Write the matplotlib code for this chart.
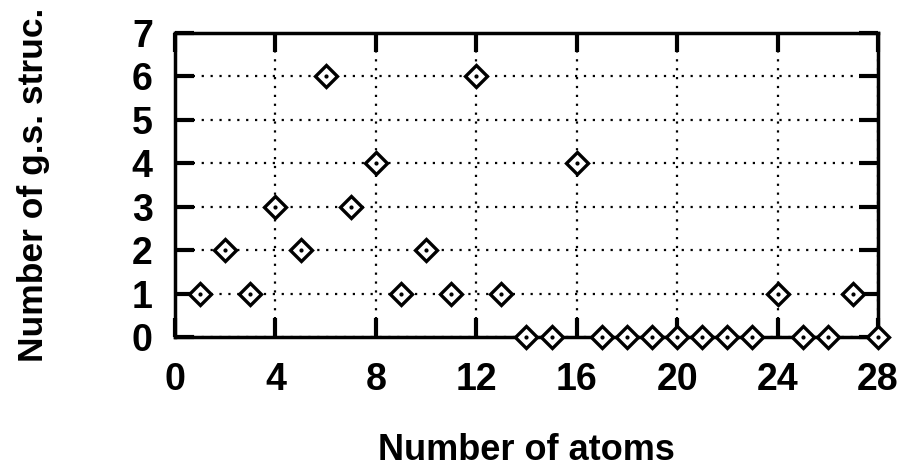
import numpy as np
import matplotlib.pyplot as plt

# number of atoms vs number of ground-state structures
atoms = [1, 2, 3, 4, 5, 6, 7, 8, 9, 10, 11, 12, 13, 14,
         15, 16, 17, 18, 19, 20, 21, 22, 23, 24, 25, 26, 27, 28]
n_struc = [1, 2, 1, 3, 2, 6, 3, 4, 1, 2, 1, 6, 1, 0,
           0, 4, 0, 0, 0, 0, 0, 0, 0, 1, 0, 0, 1, 0]

xticks = [0, 4, 8, 12, 16, 20, 24, 28]
yticks = [0, 1, 2, 3, 4, 5, 6, 7]

plt.rcParams['font.family'] = ['Liberation Sans', 'DejaVu Sans']
plt.rcParams['font.weight'] = 'bold'

fig = plt.figure(figsize=(9.02, 4.70), dpi=100)
ax = fig.add_axes([0.194, 0.283, 0.7794, 0.647])

ax.plot(atoms, n_struc, linestyle='none', marker='D', markersize=11,
        markerfacecolor='white', markeredgecolor='black', markeredgewidth=2.4,
        clip_on=False, zorder=3)
ax.plot(atoms, n_struc, linestyle='none', marker='o', markersize=2,
        color='black', clip_on=False, zorder=4)

ax.set_xlim(0, 28)
ax.set_ylim(0, 7)
ax.set_xticks(xticks)
ax.set_yticks(yticks)
ax.grid(True, linestyle=(0, (1, 3)), color='black', linewidth=1.6)

ax.tick_params(direction='in', length=14, width=3, top=True, right=True,
               labelsize=27)
ax.tick_params(axis='x', pad=18)
ax.tick_params(axis='y', pad=16)
for side in ax.spines.values():
    side.set_linewidth(2.5)

ax.set_xlabel('Number of atoms', fontsize=26, fontweight='bold', labelpad=25)
ax.set_ylabel('Number of g.s. struc.', fontsize=25.5, fontweight='bold', labelpad=59)

plt.savefig('out.png', dpi=100)
